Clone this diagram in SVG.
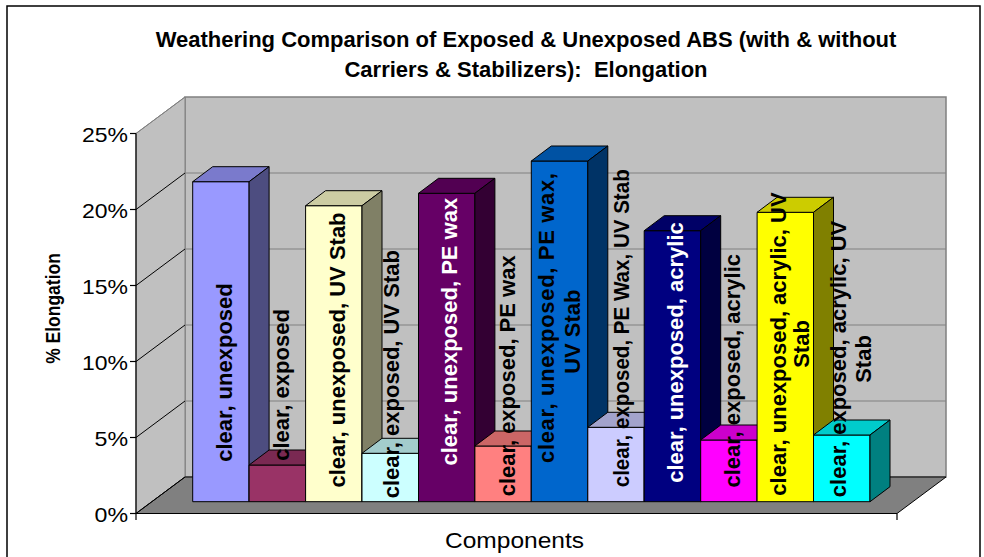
<svg xmlns="http://www.w3.org/2000/svg" width="984" height="557" viewBox="0 0 984 557">
<style>
.bar{stroke:#000;stroke-width:1;stroke-linejoin:round}
.lbl{font-family:"Liberation Sans",Arial,sans-serif;font-weight:bold;font-size:22px;text-anchor:middle;fill:#000}
.w{fill:#fff}
.ytk{font-family:"Liberation Sans",Arial,sans-serif;font-size:21px;text-anchor:end;fill:#000}
.title{font-family:"Liberation Sans",Arial,sans-serif;font-weight:bold;font-size:22px;text-anchor:middle;fill:#000}
.grid{stroke:#808080;stroke-width:1.2}
.diag{stroke:#000;stroke-width:1}
</style>
<rect x="0" y="0" width="984" height="557" fill="#fff"/>
<rect x="7" y="6" width="973" height="570" fill="none" stroke="#000" stroke-width="1.5"/>
<g id="title">
<text class="title" x="526" y="47.3">Weathering Comparison of Exposed &amp; Unexposed ABS (with &amp; without</text>
<text class="title" x="526" y="77" xml:space="preserve">Carriers &amp; Stabilizers):  Elongation</text>
</g>
<g id="walls">
<rect x="185" y="97" width="761" height="380" fill="#C0C0C0" stroke="#808080" stroke-width="1.5"/>
<polygon points="136,133.5 185,97 185,477 136,513.5" fill="#C0C0C0" stroke="#808080" stroke-width="1"/>
<polygon points="136,513.5 185,477 946,477 897,513.5" fill="#808080" stroke="#000" stroke-width="1"/>
<g class="grid">
<line x1="185" y1="173" x2="946" y2="173"/>
<line x1="185" y1="249" x2="946" y2="249"/>
<line x1="185" y1="325" x2="946" y2="325"/>
<line x1="185" y1="401" x2="946" y2="401"/>
</g>
<g class="diag">
<line x1="136" y1="133.5" x2="185" y2="97" stroke="#808080"/>
<line x1="136" y1="209.5" x2="185" y2="173"/>
<line x1="136" y1="285.5" x2="185" y2="249"/>
<line x1="136" y1="361.5" x2="185" y2="325"/>
<line x1="136" y1="437.5" x2="185" y2="401"/>
<line x1="136" y1="513.5" x2="185" y2="477"/>
</g>
</g>
<g id="axes" stroke="#000" stroke-width="1.2">
<line x1="136" y1="133.5" x2="136" y2="513.5"/>
<line x1="136" y1="513.5" x2="897" y2="513.5"/>
<line x1="130" y1="133.5" x2="136" y2="133.5"/>
<line x1="130" y1="209.5" x2="136" y2="209.5"/>
<line x1="130" y1="285.5" x2="136" y2="285.5"/>
<line x1="130" y1="361.5" x2="136" y2="361.5"/>
<line x1="130" y1="437.5" x2="136" y2="437.5"/>
<line x1="130" y1="513.5" x2="136" y2="513.5"/>
<line x1="136" y1="513.5" x2="136" y2="520"/>
<line x1="897" y1="513.5" x2="897" y2="520"/>
</g>
<g id="yticks">
<text class="ytk" x="128" y="141.5" textLength="46" lengthAdjust="spacingAndGlyphs">25%</text>
<text class="ytk" x="128" y="217.5" textLength="46" lengthAdjust="spacingAndGlyphs">20%</text>
<text class="ytk" x="128" y="293.5" textLength="46" lengthAdjust="spacingAndGlyphs">15%</text>
<text class="ytk" x="128" y="369.5" textLength="46" lengthAdjust="spacingAndGlyphs">10%</text>
<text class="ytk" x="128" y="445.5" textLength="33.5" lengthAdjust="spacingAndGlyphs">5%</text>
<text class="ytk" x="128" y="521.5" textLength="33.5" lengthAdjust="spacingAndGlyphs">0%</text>
</g>
<text id="ytitle" class="title" style="font-size:17.5px" transform="translate(60,308.5) scale(1.12,1) rotate(-90)">% Elongation</text>
<text id="xtitle" x="445" y="548.3" style="font-family:'Liberation Sans',Arial,sans-serif;font-size:22px" textLength="139" lengthAdjust="spacingAndGlyphs">Components</text>
<g id="bars">
<g id="bar1"><rect class="bar" x="192.7" y="181.7" width="56.4" height="320" fill="#9999FF"/><polygon class="bar" points="192.7,181.7 212.7,166.7 269.1,166.7 249.1,181.7" fill="#7A7ACC"/><polygon class="bar" points="249.1,181.7 269.1,166.7 269.1,486.7 249.1,501.7" fill="#4D4D80"/></g>
<g id="bar2"><rect class="bar" x="249.1" y="465" width="56.5" height="36.7" fill="#993366"/><polygon class="bar" points="249.1,465 269.1,450 325.6,450 305.6,465" fill="#7A2952"/><polygon class="bar" points="305.6,465 325.6,450 325.6,486.7 305.6,501.7" fill="#4D1A33"/></g>
<g id="bar3"><rect class="bar" x="305.6" y="205.7" width="56.4" height="296" fill="#FFFFCC"/><polygon class="bar" points="305.6,205.7 325.6,190.7 382,190.7 362,205.7" fill="#CCCCA3"/><polygon class="bar" points="362,205.7 382,190.7 382,486.7 362,501.7" fill="#808066"/></g>
<g id="bar4"><rect class="bar" x="362" y="453.3" width="56.5" height="48.4" fill="#CCFFFF"/><polygon class="bar" points="362,453.3 382,438.3 438.5,438.3 418.5,453.3" fill="#A3CCCC"/><polygon class="bar" points="418.5,453.3 438.5,438.3 438.5,486.7 418.5,501.7" fill="#668080"/></g>
<g id="bar5"><rect class="bar" x="418.5" y="193.3" width="56.4" height="308.4" fill="#660066"/><polygon class="bar" points="418.5,193.3 438.5,178.3 494.9,178.3 474.9,193.3" fill="#520052"/><polygon class="bar" points="474.9,193.3 494.9,178.3 494.9,486.7 474.9,501.7" fill="#330033"/></g>
<g id="bar6"><rect class="bar" x="474.9" y="446" width="56.4" height="55.7" fill="#FF8080"/><polygon class="bar" points="474.9,446 494.9,431 551.3,431 531.3,446" fill="#CC6666"/><polygon class="bar" points="531.3,446 551.3,431 551.3,486.7 531.3,501.7" fill="#804040"/></g>
<g id="bar7"><rect class="bar" x="531.3" y="161" width="56.5" height="340.7" fill="#0066CC"/><polygon class="bar" points="531.3,161 551.3,146 607.8,146 587.8,161" fill="#0052A3"/><polygon class="bar" points="587.8,161 607.8,146 607.8,486.7 587.8,501.7" fill="#003366"/></g>
<g id="bar8"><rect class="bar" x="587.8" y="427.3" width="56.4" height="74.4" fill="#CCCCFF"/><polygon class="bar" points="587.8,427.3 607.8,412.3 664.2,412.3 644.2,427.3" fill="#A3A3CC"/><polygon class="bar" points="644.2,427.3 664.2,412.3 664.2,486.7 644.2,501.7" fill="#666680"/></g>
<g id="bar9"><rect class="bar" x="644.2" y="230.7" width="56.5" height="271" fill="#000080"/><polygon class="bar" points="644.2,230.7 664.2,215.7 720.7,215.7 700.7,230.7" fill="#000066"/><polygon class="bar" points="700.7,230.7 720.7,215.7 720.7,486.7 700.7,501.7" fill="#000040"/></g>
<g id="bar10"><rect class="bar" x="700.7" y="440" width="56.4" height="61.7" fill="#FF00FF"/><polygon class="bar" points="700.7,440 720.7,425 777.1,425 757.1,440" fill="#CC00CC"/><polygon class="bar" points="757.1,440 777.1,425 777.1,486.7 757.1,501.7" fill="#800080"/></g>
<g id="bar11"><rect class="bar" x="757.1" y="212.3" width="56.4" height="289.4" fill="#FFFF00"/><polygon class="bar" points="757.1,212.3 777.1,197.3 833.5,197.3 813.5,212.3" fill="#CCCC00"/><polygon class="bar" points="813.5,212.3 833.5,197.3 833.5,486.7 813.5,501.7" fill="#808000"/></g>
<g id="bar12"><rect class="bar" x="813.5" y="435" width="56.5" height="66.7" fill="#00FFFF"/><polygon class="bar" points="813.5,435 833.5,420 890,420 870,435" fill="#00CCCC"/><polygon class="bar" points="870,435 890,420 890,486.7 870,501.7" fill="#008080"/></g>
</g>
<g id="labels">
<text class="lbl" transform="translate(232,372.5) rotate(-90)">clear, unexposed</text>
<text class="lbl" transform="translate(289,385) rotate(-90)">clear, exposed</text>
<text class="lbl" transform="translate(345,350) rotate(-90)">clear, unexposed, UV Stab</text>
<text class="lbl" transform="translate(399,374.2) rotate(-90)">clear, exposed, UV Stab</text>
<text class="lbl w" transform="translate(457,331.7) rotate(-90)">clear, unexposed, PE wax</text>
<text class="lbl" transform="translate(515,375.8) rotate(-90)">clear, exposed, PE wax</text>
<text class="lbl" transform="translate(554,318) rotate(-90)" textLength="290" lengthAdjust="spacing">clear, unexposed, PE wax,</text>
<text class="lbl" transform="translate(580,331.7) rotate(-90)">UV Stab</text>
<text class="lbl" transform="translate(629,328.3) rotate(-90)" textLength="318" lengthAdjust="spacingAndGlyphs">clear, exposed, PE Wax, UV Stab</text>
<text class="lbl w" transform="translate(683.4,352.5) rotate(-90)">clear, unexposed, acrylic</text>
<text class="lbl" transform="translate(740,370.8) rotate(-90)">clear, exposed, acrylic</text>
<text class="lbl" transform="translate(786,344) rotate(-90)">clear, unexposed, acrylic, UV</text>
<text class="lbl" transform="translate(809,344) rotate(-90)">Stab</text>
<text class="lbl" transform="translate(846,359) rotate(-90)">clear, exposed, acrylic, UV</text>
<text class="lbl" transform="translate(871,359) rotate(-90)">Stab</text>
</g>
</svg>
